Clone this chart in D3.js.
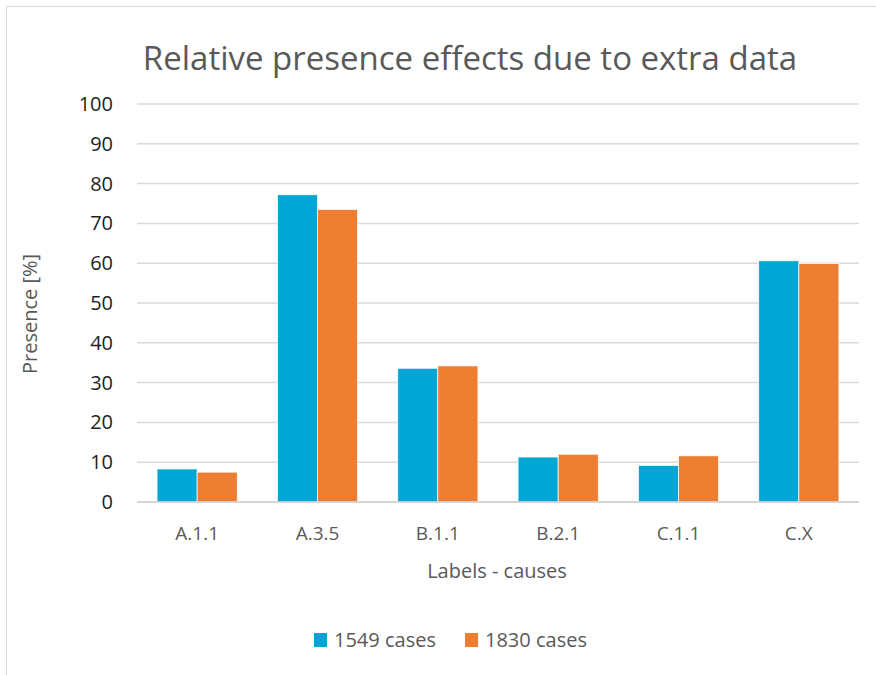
<!DOCTYPE html>
<html>
<head>
<meta charset="utf-8">
<script src="https://cdn.jsdelivr.net/npm/d3@7"></script>
<style>
  body { margin: 0; background: #fff; }
  text { font-family: "Open Sans", "Noto Sans", sans-serif; fill: #595959; }
</style>
</head>
<body>
<svg id="chart" width="876" height="675"></svg>
<script>
var categories = ["A.1.1", "A.3.5", "B.1.1", "B.2.1", "C.1.1", "C.X"];
var seriesNames = ["1549 cases", "1830 cases"];
var values1549 = [8.3, 77.2, 33.6, 11.3, 9.2, 60.6];
var values1830 = [7.5, 73.5, 34.2, 12.0, 11.6, 59.9];
var yTicks = [0, 10, 20, 30, 40, 50, 60, 70, 80, 90, 100];
var colors = ["#00A6D6", "#ED7D31"];

var svg = d3.select("#chart");
var margin = {left: 137, right: 17, top: 104, bottom: 173};
var width = 876 - margin.left - margin.right,
    height = 675 - margin.top - margin.bottom;

// chart frame
svg.append("rect")
    .attr("x", 6.5).attr("y", 6.5)
    .attr("width", 900).attr("height", 700)
    .attr("fill", "none")
    .attr("stroke", "#d9d9d9")
    .attr("stroke-width", 1);

var g = svg.append("g")
    .attr("transform", "translate(" + margin.left + "," + margin.top + ")");

var x = d3.scaleBand().domain(categories).range([0, width]).paddingInner(0).paddingOuter(0);
var x1 = d3.scaleBand().domain(seriesNames).range([0, x.bandwidth()]).paddingInner(0).paddingOuter(0.5);
var y = d3.scaleLinear().domain([0, 100]).range([height, 0]);

// gridlines
g.append("g").selectAll("line")
    .data(yTicks)
    .enter().append("line")
    .attr("x1", 0).attr("x2", width)
    .attr("y1", function(d) { return y(d); })
    .attr("y2", function(d) { return y(d); })
    .attr("stroke", "#d9d9d9")
    .attr("stroke-width", 1.5);

// y tick labels
g.append("g").selectAll("text")
    .data(yTicks)
    .enter().append("text")
    .attr("x", -24)
    .attr("y", function(d) { return y(d); })
    .attr("dy", "0.35em")
    .attr("text-anchor", "end")
    .style("font-size", "20px")
    .style("fill", "#1e1e1e")
    .text(function(d) { return d; });

var rows = categories.map(function(c, i) {
  return {cat: c, vals: [values1549[i], values1830[i]]};
});

var groups = g.append("g").selectAll("g")
    .data(rows)
    .enter().append("g")
    .attr("transform", function(d) { return "translate(" + x(d.cat) + ",0)"; });

groups.selectAll("rect")
    .data(function(d) { return d.vals.map(function(v, i) { return {name: seriesNames[i], v: v, i: i}; }); })
    .enter().append("rect")
    .attr("x", function(d) { return x1(d.name); })
    .attr("width", x1.bandwidth())
    .attr("y", function(d) { return y(d.v); })
    .attr("height", function(d) { return height - y(d.v); })
    .attr("fill", function(d) { return colors[d.i]; })
    .attr("stroke", "#fff")
    .attr("stroke-width", 0.75);

// x axis line
g.append("line")
    .attr("x1", 0).attr("x2", width)
    .attr("y1", height).attr("y2", height)
    .attr("stroke", "#d0d0d0")
    .attr("stroke-width", 1.5);

// x labels
g.append("g").selectAll("text")
    .data(categories)
    .enter().append("text")
    .attr("x", function(d) { return x(d) + x.bandwidth() / 2; })
    .attr("y", height + 31)
    .attr("dy", "0.35em")
    .attr("text-anchor", "middle")
    .style("font-size", "19px")
    .text(function(d) { return d; });

// title
svg.append("text")
    .attr("x", 470).attr("y", 58)
    .attr("dy", "0.35em")
    .attr("text-anchor", "middle")
    .style("font-size", "33px")
    .text("Relative presence effects due to extra data");

// axis titles
svg.append("text")
    .attr("x", 497).attr("y", 571)
    .attr("dy", "0.35em")
    .attr("text-anchor", "middle")
    .style("font-size", "20px")
    .text("Labels - causes");

svg.append("text")
    .attr("transform", "translate(30,314) rotate(-90)")
    .attr("dy", "0.35em")
    .attr("text-anchor", "middle")
    .style("font-size", "20px")
    .text("Presence [%]");

// legend
var legend = svg.append("g").attr("transform", "translate(314,640)");
var items = legend.selectAll("g")
    .data(seriesNames)
    .enter().append("g")
    .attr("transform", function(d, i) { return "translate(" + (i * 151) + ",0)"; });
items.append("rect")
    .attr("x", 0).attr("y", -7)
    .attr("width", 13).attr("height", 14)
    .attr("fill", function(d, i) { return colors[i]; });
items.append("text")
    .attr("x", 20).attr("y", 0)
    .attr("dy", "0.35em")
    .style("font-size", "20px")
    .text(function(d) { return d; });
</script>
</body>
</html>
